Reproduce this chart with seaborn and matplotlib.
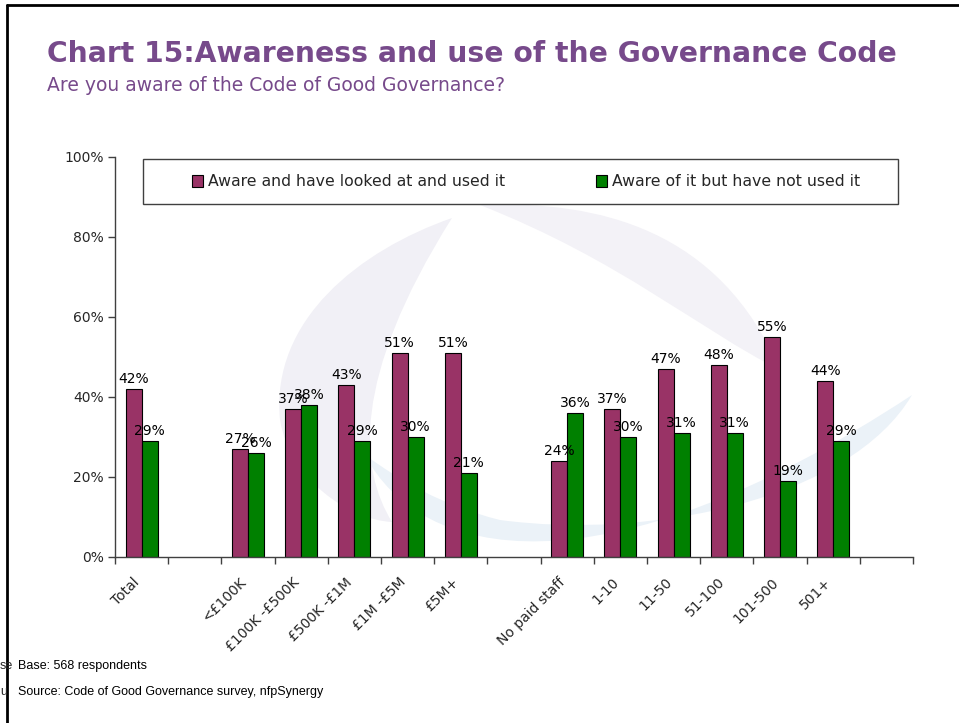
import matplotlib
matplotlib.use("Agg")
import matplotlib.pyplot as plt
import matplotlib.transforms as mtransforms
import seaborn as sns
import pandas as pd
import numpy as np
from matplotlib.patches import Rectangle, PathPatch
from matplotlib.path import Path
from matplotlib.ticker import FixedLocator, PercentFormatter

# ---- data ----
categories = ["Total", "<£100K", "£100K -£500K", "£500K -£1M", "£1M -£5M", "£5M+",
              "No paid staff", "1-10", "11-50", "51-100", "101-500", "501+"]
order = ["Total", " ", "<£100K", "£100K -£500K", "£500K -£1M", "£1M -£5M", "£5M+",
         "  ", "No paid staff", "1-10", "11-50", "51-100", "101-500", "501+", "   "]
used = [42, 27, 37, 43, 51, 51, 24, 37, 47, 48, 55, 44]
not_used = [29, 26, 38, 29, 30, 21, 36, 30, 31, 31, 19, 29]
series = ["Aware and have looked at and used it", "Aware of it but have not used it"]
colors = ["#993366", "#008000"]
yticks = [0, 20, 40, 60, 80, 100]

df = pd.DataFrame({
    "category": categories * 2,
    "value": used + not_used,
    "series": [series[0]] * len(categories) + [series[1]] * len(categories),
})

sns.set_theme(style="white")
plt.rcParams["font.family"] = ["DejaVu Sans"]

W, H = 959, 723
fig = plt.figure(figsize=(W / 100, H / 100), dpi=100)
fig.patch.set_facecolor("white")

# background axes in pixel coordinates for the faint logo watermark
bg = fig.add_axes([0, 0, 1, 1], zorder=-5)
bg.set_xlim(0, W)
bg.set_ylim(H, 0)
bg.axis("off")

def bez_shape(pts, codes, color):
    bg.add_patch(PathPatch(Path(pts, codes), facecolor=color, edgecolor="none"))

M, C4, CL = Path.MOVETO, Path.CURVE4, Path.CLOSEPOLY
# grey left swoosh
bez_shape([(452, 218), (360, 250), (270, 320), (280, 420),
           (290, 480), (350, 520), (392, 522),
           (360, 470), (350, 380), (452, 218), (452, 218)],
          [M, C4, C4, C4, C4, C4, C4, C4, C4, C4, CL], "#F1F0F6")
# grey upper-right swoosh
bez_shape([(480, 205), (600, 200), (720, 230), (780, 370),
           (700, 330), (620, 260), (480, 205), (480, 205)],
          [M, C4, C4, C4, C4, C4, C4, CL], "#F3F2F7")
# light-blue bottom swoosh
bez_shape([(365, 455), (420, 560), (600, 600), (912, 395),
           (850, 500), (650, 540), (500, 520),
           (440, 505), (400, 480), (365, 455), (365, 455)],
          [M, C4, C4, C4, C4, C4, C4, C4, C4, C4, CL], "#EBF2F8")

def fx(px):
    return px / W

def fy(py):
    return 1 - py / H

ax = fig.add_axes([fx(115), fy(557), fx(913) - fx(115), fy(157) - fy(557)])
ax.patch.set_alpha(0)

sns.barplot(data=df, x="category", y="value", hue="series", order=order,
            hue_order=series, palette=colors, width=0.6, ax=ax,
            edgecolor="black", linewidth=0.8, saturation=1)

for cont in ax.containers:
    ax.bar_label(cont, fmt="%g%%", padding=2, fontsize=10, color="black")

ax.set_ylim(0, 100)
ax.set_xlim(-0.5, len(order) - 0.5)
ax.set_yticks(yticks)
ax.yaxis.set_major_formatter(PercentFormatter(decimals=0))
ax.tick_params(axis="y", direction="out", length=5, width=1, color="#404040", labelsize=10, pad=3, left=True)
ax.set_xlabel("")
ax.set_ylabel("")

# x: labels at centres, tick marks at boundaries
ax.set_xticks(range(len(order)))
ax.set_xticklabels(order, rotation=45, ha="right", va="top", rotation_mode="anchor", fontsize=10)
ax.tick_params(axis="x", which="major", length=0, pad=13)
shift = mtransforms.ScaledTranslation(-9 / 100, 0, fig.dpi_scale_trans)
for lab in ax.get_xticklabels():
    lab.set_transform(lab.get_transform() + shift)
ax.xaxis.set_minor_locator(FixedLocator(np.arange(-0.5, len(order), 1.0)))
ax.tick_params(axis="x", which="minor", direction="out", length=5, width=1, color="#404040", bottom=True)

for s in ["top", "right"]:
    ax.spines[s].set_visible(False)
for s in ["left", "bottom"]:
    ax.spines[s].set_color("#404040")
    ax.spines[s].set_linewidth(1)

# legend
handles, labels = ax.get_legend_handles_labels()
if ax.legend_:
    ax.legend_.remove()
leg = ax.legend(handles, labels, ncol=2, frameon=False, loc="center left",
                bbox_to_anchor=(fx(192), fy(182)), bbox_transform=fig.transFigure,
                borderpad=0, borderaxespad=0, handlelength=0.72, handleheight=0.72,
                handletextpad=0.3, columnspacing=5.8, fontsize=11.3)
leg.set_zorder(6)
for h in leg.legend_handles:
    h.set_edgecolor("black")
    h.set_linewidth(0.8)
ax.add_patch(Rectangle((fx(143), fy(204)), fx(898) - fx(143), fy(159) - fy(204),
                       transform=fig.transFigure, facecolor="white", edgecolor="#404040",
                       linewidth=1, zorder=4, clip_on=False))

# titles
fig.text(fx(47), fy(62), "Chart 15:Awareness and use of the Governance Code", fontsize=20.3,
         fontweight="bold", color="#774A8B", ha="left", va="baseline")
fig.text(fx(47), fy(91), "Are you aware of the Code of Good Governance?", fontsize=13.5,
         color="#774A8B", ha="left", va="baseline")

# footer
fig.text(fx(18), fy(669), "Base: 568 respondents", fontsize=9, family="Liberation Sans",
         ha="left", va="baseline", color="black")
fig.text(fx(18), fy(695), "Source: Code of Good Governance survey, nfpSynergy", fontsize=9,
         family="Liberation Sans", ha="left", va="baseline", color="black")
fig.text(fx(0), fy(669), "se", fontsize=9, family="Liberation Sans", ha="left", va="baseline")
fig.text(fx(0), fy(695), "u", fontsize=9, family="Liberation Sans", ha="left", va="baseline")

# frame lines
fig.add_artist(plt.Line2D([fx(7), fx(959)], [fy(5), fy(5)], transform=fig.transFigure,
                          color="black", linewidth=2))
fig.add_artist(plt.Line2D([fx(7), fx(7)], [fy(5), fy(723)], transform=fig.transFigure,
                          color="black", linewidth=2))

fig.savefig("out.png", dpi=100)
